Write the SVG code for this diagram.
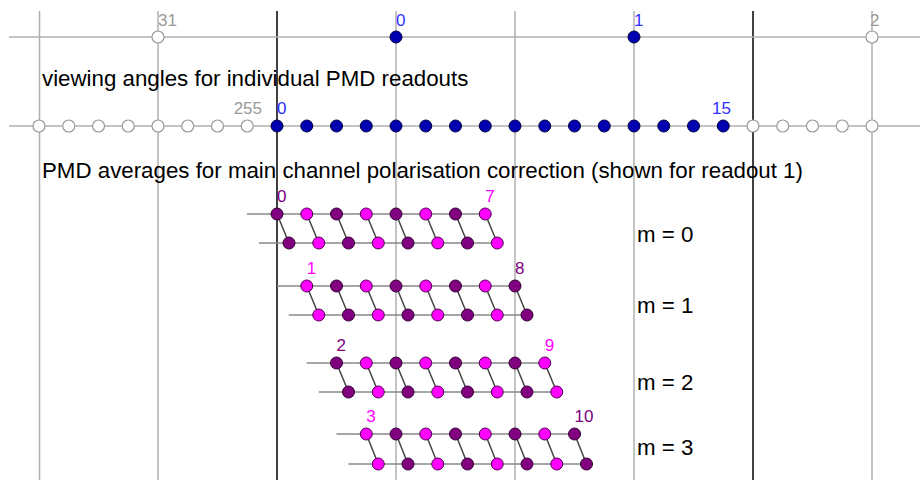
<svg xmlns="http://www.w3.org/2000/svg" width="920" height="480" viewBox="0 0 920 480">
<style>
.grid{stroke:#b0b0b0;stroke-width:1.5;fill:none}
.axis{stroke:#000;stroke-width:1.5;fill:none}
.bl{stroke:#888;stroke-width:1.5;fill:none}
.lk{stroke:#444;stroke-width:1.5;fill:none}
.open{fill:#fff;stroke:#999;stroke-width:1.2}
.blue{fill:#0000b0;stroke:#000040;stroke-width:1}
.pu{fill:#800080;stroke:#300030;stroke-width:1}
.mg{fill:#ff00ff;stroke:#500050;stroke-width:1}
.big{font-family:"Liberation Sans",Arial,sans-serif;font-size:22.3px;fill:#000}
.sm{font-family:"Liberation Sans",Arial,sans-serif;font-size:17px}
.gl{fill:#999}
.bll{fill:#3030ff}
.pul{fill:#800080}
.mgl{fill:#ff00ff}
</style>
<rect width="920" height="480" fill="#fff"/>
<g id="grid">
<line class="grid" x1="39.5" y1="11" x2="39.5" y2="480"/>
<line class="grid" x1="158" y1="11" x2="158" y2="480"/>
<line class="grid" x1="396" y1="11" x2="396" y2="480"/>
<line class="grid" x1="515" y1="11" x2="515" y2="480"/>
<line class="grid" x1="634" y1="11" x2="634" y2="480"/>
<line class="grid" x1="872" y1="11" x2="872" y2="480"/>
<line class="axis" x1="277" y1="11" x2="277" y2="480"/>
<line class="axis" x1="753" y1="11" x2="753" y2="480"/>
<line class="grid" x1="9" y1="37" x2="920" y2="37"/>
<line class="grid" x1="9" y1="126" x2="920" y2="126"/>
</g>
<g id="connectors">
<line class="bl" x1="247" y1="214" x2="485.25" y2="214"/>
<line class="bl" x1="259" y1="243" x2="497.25" y2="243"/>
<line class="bl" x1="277" y1="286" x2="515" y2="286"/>
<line class="bl" x1="288.75" y1="315" x2="527" y2="315"/>
<line class="bl" x1="306.75" y1="363" x2="544.75" y2="363"/>
<line class="bl" x1="318.75" y1="392" x2="556.75" y2="392"/>
<line class="bl" x1="336.5" y1="434" x2="574.5" y2="434"/>
<line class="bl" x1="348.5" y1="464" x2="586.5" y2="464"/>
<path class="lk" d="M277 214L289 243M306.75 214L318.75 243M336.5 214L348.5 243M366.25 214L378.25 243M396 214L408 243M425.75 214L437.75 243M455.5 214L467.5 243M485.25 214L497.25 243"/>
<path class="lk" d="M306.75 286L318.75 315M336.5 286L348.5 315M366.25 286L378.25 315M396 286L408 315M425.75 286L437.75 315M455.5 286L467.5 315M485.25 286L497.25 315M515 286L527 315"/>
<path class="lk" d="M336.5 363L348.5 392M366.25 363L378.25 392M396 363L408 392M425.75 363L437.75 392M455.5 363L467.5 392M485.25 363L497.25 392M515 363L527 392M544.75 363L556.75 392"/>
<path class="lk" d="M366.25 434L378.25 464M396 434L408 464M425.75 434L437.75 464M455.5 434L467.5 464M485.25 434L497.25 464M515 434L527 464M544.75 434L556.75 464M574.5 434L586.5 464"/>
</g>
<g id="top-row">
<g id="t31"><circle class="open" cx="158" cy="37" r="6"/><text class="sm gl" x="158" y="26">31</text></g>
<g id="t0"><circle class="blue" cx="396" cy="37" r="6"/><text class="sm bll" x="396" y="26">0</text></g>
<g id="t1"><circle class="blue" cx="634" cy="37" r="6"/><text class="sm bll" x="634" y="26">1</text></g>
<g id="t2"><circle class="open" cx="872" cy="37" r="6"/><text class="sm gl" x="870" y="26">2</text></g>
</g>
<text class="big" x="42" y="86">viewing angles for individual PMD readouts</text>
<g id="readouts">
<circle class="open" cx="39" cy="126" r="6"/>
<circle class="open" cx="68.75" cy="126" r="6"/>
<circle class="open" cx="98.5" cy="126" r="6"/>
<circle class="open" cx="128.25" cy="126" r="6"/>
<circle class="open" cx="158" cy="126" r="6"/>
<circle class="open" cx="187.75" cy="126" r="6"/>
<circle class="open" cx="217.5" cy="126" r="6"/>
<g id="r255"><circle class="open" cx="247.25" cy="126" r="6"/><text class="sm gl" x="262" y="114" text-anchor="end">255</text></g>
<g id="r0"><circle class="blue" cx="277" cy="126" r="6"/><text class="sm bll" x="277" y="114">0</text></g>
<circle class="blue" cx="306.75" cy="126" r="6"/>
<circle class="blue" cx="336.5" cy="126" r="6"/>
<circle class="blue" cx="366.25" cy="126" r="6"/>
<circle class="blue" cx="396" cy="126" r="6"/>
<circle class="blue" cx="425.75" cy="126" r="6"/>
<circle class="blue" cx="455.5" cy="126" r="6"/>
<circle class="blue" cx="485.25" cy="126" r="6"/>
<circle class="blue" cx="515" cy="126" r="6"/>
<circle class="blue" cx="544.75" cy="126" r="6"/>
<circle class="blue" cx="574.5" cy="126" r="6"/>
<circle class="blue" cx="604.25" cy="126" r="6"/>
<circle class="blue" cx="634" cy="126" r="6"/>
<circle class="blue" cx="663.75" cy="126" r="6"/>
<circle class="blue" cx="693.5" cy="126" r="6"/>
<g id="r15"><circle class="blue" cx="723.25" cy="126" r="6"/><text class="sm bll" x="712" y="114">15</text></g>
<circle class="open" cx="753" cy="126" r="6"/>
<circle class="open" cx="782.75" cy="126" r="6"/>
<circle class="open" cx="812.5" cy="126" r="6"/>
<circle class="open" cx="842.25" cy="126" r="6"/>
<circle class="open" cx="872" cy="126" r="6"/>
</g>
<text class="big" x="42" y="178">PMD averages for main channel polarisation correction (shown for readout 1)</text>
<g id="band-m0">
<circle class="pu" cx="277" cy="214" r="6"/><circle class="mg" cx="306.75" cy="214" r="6"/><circle class="pu" cx="336.5" cy="214" r="6"/><circle class="mg" cx="366.25" cy="214" r="6"/><circle class="pu" cx="396" cy="214" r="6"/><circle class="mg" cx="425.75" cy="214" r="6"/><circle class="pu" cx="455.5" cy="214" r="6"/><circle class="mg" cx="485.25" cy="214" r="6"/>
<circle class="pu" cx="289" cy="243" r="6"/><circle class="mg" cx="318.75" cy="243" r="6"/><circle class="pu" cx="348.5" cy="243" r="6"/><circle class="mg" cx="378.25" cy="243" r="6"/><circle class="pu" cx="408" cy="243" r="6"/><circle class="mg" cx="437.75" cy="243" r="6"/><circle class="pu" cx="467.5" cy="243" r="6"/><circle class="mg" cx="497.25" cy="243" r="6"/>
<text class="sm pul" x="277" y="202">0</text><text class="sm mgl" x="485.25" y="202">7</text>
<text class="big" x="637" y="242">m = 0</text>
</g>
<g id="band-m1">
<circle class="mg" cx="306.75" cy="286" r="6"/><circle class="pu" cx="336.5" cy="286" r="6"/><circle class="mg" cx="366.25" cy="286" r="6"/><circle class="pu" cx="396" cy="286" r="6"/><circle class="mg" cx="425.75" cy="286" r="6"/><circle class="pu" cx="455.5" cy="286" r="6"/><circle class="mg" cx="485.25" cy="286" r="6"/><circle class="pu" cx="515" cy="286" r="6"/>
<circle class="mg" cx="318.75" cy="315" r="6"/><circle class="pu" cx="348.5" cy="315" r="6"/><circle class="mg" cx="378.25" cy="315" r="6"/><circle class="pu" cx="408" cy="315" r="6"/><circle class="mg" cx="437.75" cy="315" r="6"/><circle class="pu" cx="467.5" cy="315" r="6"/><circle class="mg" cx="497.25" cy="315" r="6"/><circle class="pu" cx="527" cy="315" r="6"/>
<text class="sm mgl" x="306.75" y="274">1</text><text class="sm pul" x="515" y="274">8</text>
<text class="big" x="637" y="313">m = 1</text>
</g>
<g id="band-m2">
<circle class="pu" cx="336.5" cy="363" r="6"/><circle class="mg" cx="366.25" cy="363" r="6"/><circle class="pu" cx="396" cy="363" r="6"/><circle class="mg" cx="425.75" cy="363" r="6"/><circle class="pu" cx="455.5" cy="363" r="6"/><circle class="mg" cx="485.25" cy="363" r="6"/><circle class="pu" cx="515" cy="363" r="6"/><circle class="mg" cx="544.75" cy="363" r="6"/>
<circle class="pu" cx="348.5" cy="392" r="6"/><circle class="mg" cx="378.25" cy="392" r="6"/><circle class="pu" cx="408" cy="392" r="6"/><circle class="mg" cx="437.75" cy="392" r="6"/><circle class="pu" cx="467.5" cy="392" r="6"/><circle class="mg" cx="497.25" cy="392" r="6"/><circle class="pu" cx="527" cy="392" r="6"/><circle class="mg" cx="556.75" cy="392" r="6"/>
<text class="sm pul" x="336.5" y="351">2</text><text class="sm mgl" x="544.75" y="351">9</text>
<text class="big" x="637" y="390">m = 2</text>
</g>
<g id="band-m3">
<circle class="mg" cx="366.25" cy="434" r="6"/><circle class="pu" cx="396" cy="434" r="6"/><circle class="mg" cx="425.75" cy="434" r="6"/><circle class="pu" cx="455.5" cy="434" r="6"/><circle class="mg" cx="485.25" cy="434" r="6"/><circle class="pu" cx="515" cy="434" r="6"/><circle class="mg" cx="544.75" cy="434" r="6"/><circle class="pu" cx="574.5" cy="434" r="6"/>
<circle class="mg" cx="378.25" cy="464" r="6"/><circle class="pu" cx="408" cy="464" r="6"/><circle class="mg" cx="437.75" cy="464" r="6"/><circle class="pu" cx="467.5" cy="464" r="6"/><circle class="mg" cx="497.25" cy="464" r="6"/><circle class="pu" cx="527" cy="464" r="6"/><circle class="mg" cx="556.75" cy="464" r="6"/><circle class="pu" cx="586.5" cy="464" r="6"/>
<text class="sm mgl" x="366.25" y="422">3</text><text class="sm pul" x="574.5" y="422">10</text>
<text class="big" x="637" y="455">m = 3</text>
</g>
</svg>
